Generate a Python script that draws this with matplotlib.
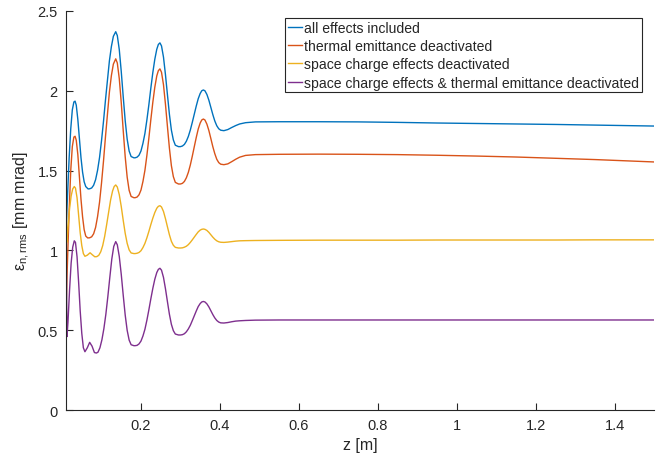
import matplotlib
matplotlib.use("Agg")
import matplotlib.pyplot as plt

plt.rcParams['font.family'] = ['Liberation Sans', 'DejaVu Sans']
plt.rcParams['mathtext.fontset'] = 'custom'
plt.rcParams['mathtext.rm'] = 'Liberation Sans'

# z positions [m] shared by all curves in the oscillating part and the tail
z_mid = [0.140, 0.145, 0.150, 0.155, 0.160, 0.165, 0.170, 0.175, 0.182,
         0.185, 0.190, 0.195, 0.200, 0.205, 0.210, 0.215, 0.220, 0.225, 0.230, 0.235, 0.240, 0.244, 0.248,
         0.252, 0.257, 0.262, 0.267, 0.272, 0.277, 0.282, 0.287, 0.295,
         0.300, 0.305, 0.310, 0.315, 0.320, 0.325, 0.330, 0.335, 0.340, 0.345, 0.350, 0.354, 0.358,
         0.362, 0.367, 0.372, 0.377, 0.382, 0.387, 0.392, 0.397, 0.402, 0.410,
         0.420, 0.430, 0.440, 0.450, 0.465, 0.490]
z_tail = [0.55, 0.65, 0.75, 0.85, 0.95, 1.05, 1.15, 1.25, 1.35, 1.45, 1.50]

# all effects included
z_all_early = [0.010, 0.014, 0.018, 0.022, 0.026, 0.030, 0.033, 0.036, 0.040, 0.044, 0.048, 0.052, 0.056,
               0.060, 0.066, 0.070, 0.075, 0.080, 0.085, 0.090, 0.095, 0.100, 0.105, 0.110, 0.115, 0.120,
               0.125, 0.130, 0.136]
eps_all_early = [1.10, 1.35, 1.58, 1.76, 1.88, 1.93, 1.935, 1.91, 1.82, 1.70, 1.58, 1.49, 1.43,
                 1.40, 1.385, 1.386, 1.391, 1.408, 1.443, 1.502, 1.582, 1.687, 1.808, 1.941, 2.065, 2.188,
                 2.277, 2.341, 2.37]
eps_all_mid = [2.346, 2.258, 2.121, 1.962, 1.813, 1.697, 1.622, 1.588, 1.580,
               1.580, 1.584, 1.596, 1.623, 1.671, 1.733, 1.818, 1.913, 2.017, 2.114, 2.197, 2.260, 2.290, 2.300,
               2.281, 2.211, 2.101, 1.976, 1.853, 1.754, 1.692, 1.659, 1.650,
               1.650, 1.654, 1.664, 1.684, 1.714, 1.754, 1.802, 1.853, 1.904, 1.950, 1.983, 2.000, 2.005,
               2.000, 1.977, 1.941, 1.896, 1.851, 1.811, 1.781, 1.762, 1.753, 1.750,
               1.757, 1.770, 1.782, 1.792, 1.800, 1.805]
eps_all_tail = [1.806, 1.806, 1.805, 1.802, 1.798, 1.795, 1.792, 1.789, 1.785, 1.781, 1.779]

# thermal emittance deactivated
z_noth_early = [0.010, 0.014, 0.018, 0.022, 0.026, 0.030, 0.033, 0.036, 0.040, 0.044, 0.048, 0.052, 0.056,
                0.060, 0.065, 0.070, 0.075, 0.080, 0.085, 0.090, 0.095, 0.100, 0.105, 0.110, 0.115, 0.120,
                0.125, 0.130, 0.136]
eps_noth_early = [0.62, 0.95, 1.25, 1.50, 1.65, 1.71, 1.715, 1.69, 1.60, 1.46, 1.32, 1.21, 1.13,
                  1.09, 1.078, 1.079, 1.085, 1.104, 1.144, 1.212, 1.302, 1.422, 1.559, 1.711, 1.852, 1.992,
                  2.095, 2.167, 2.20]
eps_noth_mid = [2.174, 2.076, 1.926, 1.751, 1.587, 1.459, 1.376, 1.338, 1.330,
                1.330, 1.334, 1.348, 1.378, 1.432, 1.502, 1.596, 1.704, 1.820, 1.928, 2.022, 2.093, 2.126, 2.137,
                2.116, 2.038, 1.916, 1.777, 1.641, 1.531, 1.462, 1.426, 1.416,
                1.416, 1.420, 1.432, 1.455, 1.489, 1.535, 1.590, 1.649, 1.707, 1.760, 1.798, 1.817, 1.823,
                1.817, 1.791, 1.751, 1.701, 1.650, 1.606, 1.571, 1.550, 1.540, 1.537,
                1.542, 1.556, 1.571, 1.584, 1.595, 1.600]
eps_noth_tail = [1.602, 1.603, 1.602, 1.600, 1.596, 1.591, 1.585, 1.577, 1.569, 1.559, 1.554]

# space charge effects deactivated
z_nosc_early = [0.010, 0.012, 0.015, 0.019, 0.023, 0.027, 0.031, 0.034, 0.038, 0.042, 0.046, 0.050, 0.054,
                0.058, 0.064, 0.071, 0.077, 0.083, 0.088, 0.093, 0.098, 0.103, 0.108, 0.113, 0.118, 0.123,
                0.128, 0.132, 0.136]
eps_nosc_early = [1.50, 1.05, 1.14, 1.26, 1.34, 1.385, 1.40, 1.39, 1.33, 1.22, 1.11, 1.03, 0.98,
                  0.963, 0.970, 0.985, 0.972, 0.960, 0.961, 0.969, 0.991, 1.030, 1.088, 1.161, 1.239, 1.316,
                  1.372, 1.400, 1.41]
eps_nosc_mid = [1.397, 1.349, 1.275, 1.188, 1.107, 1.044, 1.003, 0.984, 0.980,
                0.980, 0.982, 0.987, 0.998, 1.018, 1.044, 1.079, 1.119, 1.162, 1.202, 1.237, 1.264, 1.276, 1.280,
                1.272, 1.244, 1.199, 1.148, 1.098, 1.057, 1.032, 1.019, 1.015,
                1.015, 1.016, 1.020, 1.026, 1.036, 1.050, 1.066, 1.083, 1.100, 1.116, 1.127, 1.132, 1.134,
                1.132, 1.125, 1.113, 1.098, 1.083, 1.070, 1.060, 1.054, 1.051, 1.050,
                1.052, 1.055, 1.058, 1.060, 1.061, 1.062]
eps_nosc_tail = [1.063, 1.064, 1.064, 1.064, 1.065, 1.065, 1.065, 1.065, 1.066, 1.066, 1.066]

# space charge effects & thermal emittance deactivated
z_none_early = [0.010, 0.0125, 0.015, 0.019, 0.023, 0.027, 0.031, 0.034, 0.038, 0.042, 0.046, 0.050, 0.054,
                0.058, 0.064, 0.070, 0.076, 0.082, 0.087, 0.091, 0.096, 0.101, 0.106, 0.111, 0.116, 0.121,
                0.126, 0.131, 0.136]
eps_none_early = [1.18, 0.46, 0.55, 0.75, 0.92, 1.02, 1.06, 1.05, 0.96, 0.80, 0.62, 0.48, 0.39,
                  0.365, 0.39, 0.424, 0.40, 0.36, 0.357, 0.362, 0.39, 0.44, 0.51, 0.60, 0.71, 0.83,
                  0.945, 1.025, 1.055]
eps_none_mid = [1.035, 0.962, 0.850, 0.719, 0.595, 0.499, 0.438, 0.409, 0.403,
                0.403, 0.405, 0.414, 0.432, 0.464, 0.506, 0.563, 0.628, 0.697, 0.762, 0.819, 0.861, 0.881, 0.888,
                0.876, 0.831, 0.760, 0.679, 0.600, 0.537, 0.497, 0.476, 0.470,
                0.470, 0.472, 0.478, 0.490, 0.508, 0.531, 0.560, 0.590, 0.620, 0.648, 0.667, 0.677, 0.680,
                0.677, 0.665, 0.646, 0.622, 0.598, 0.577, 0.561, 0.551, 0.546, 0.545,
                0.548, 0.553, 0.557, 0.559, 0.561, 0.563]
eps_none_tail = [0.564, 0.564, 0.564, 0.564, 0.564, 0.564, 0.564, 0.564, 0.564, 0.564, 0.564]

labels = ["all effects included",
          "thermal emittance deactivated",
          "space charge effects deactivated",
          "space charge effects & thermal emittance deactivated"]
colors = ["#0072BD", "#D95319", "#EDB120", "#7E2F8E"]

xticks = [0.2, 0.4, 0.6, 0.8, 1.0, 1.2, 1.4]
xticklabels = ["0.2", "0.4", "0.6", "0.8", "1", "1.2", "1.4"]
yticks = [0, 0.5, 1, 1.5, 2, 2.5]
yticklabels = ["0", "0.5", "1", "1.5", "2", "2.5"]

axcol = "#262626"

fig = plt.figure(figsize=(6.58, 4.60), dpi=100)
ax = fig.add_axes([0.1003, 0.1065, 0.8937, 0.8675])

series = [
    (z_all_early, eps_all_early, eps_all_mid, eps_all_tail),
    (z_noth_early, eps_noth_early, eps_noth_mid, eps_noth_tail),
    (z_nosc_early, eps_nosc_early, eps_nosc_mid, eps_nosc_tail),
    (z_none_early, eps_none_early, eps_none_mid, eps_none_tail),
]
for (z0, e0, e1, e2), lab, c in zip(series, labels, colors):
    ax.plot(z0 + z_mid + z_tail, e0 + e1 + e2, color=c, lw=1.0, label=lab)

ax.set_xlim(0.01, 1.5)
ax.set_ylim(0, 2.5)
ax.set_xticks(xticks)
ax.set_xticklabels(xticklabels)
ax.set_yticks(yticks)
ax.set_yticklabels(yticklabels)

for s in ["top", "right"]:
    ax.spines[s].set_visible(False)
for s in ["left", "bottom"]:
    ax.spines[s].set_color(axcol)
    ax.spines[s].set_linewidth(0.8)
ax.tick_params(direction="in", length=5, width=0.8, colors=axcol, labelsize=10.5, pad=6)

ax.set_xlabel("z [m]", fontsize=11.5, color=axcol, labelpad=3)
ax.set_ylabel(r"$\mathregular{ε_{n,rms}}$ [mm mrad]", fontsize=11.5, color=axcol, labelpad=4)

leg = ax.legend(loc="upper right", bbox_to_anchor=(0.98, 0.982), fontsize=10.1,
                handlelength=1.05, handletextpad=0.15, labelspacing=0.3,
                borderpad=0.2, borderaxespad=0.0, fancybox=False, framealpha=1)
leg.get_frame().set_edgecolor(axcol)
leg.get_frame().set_linewidth(0.8)
for t in leg.get_texts():
    t.set_color(axcol)

fig.savefig("out.png", dpi=100)
